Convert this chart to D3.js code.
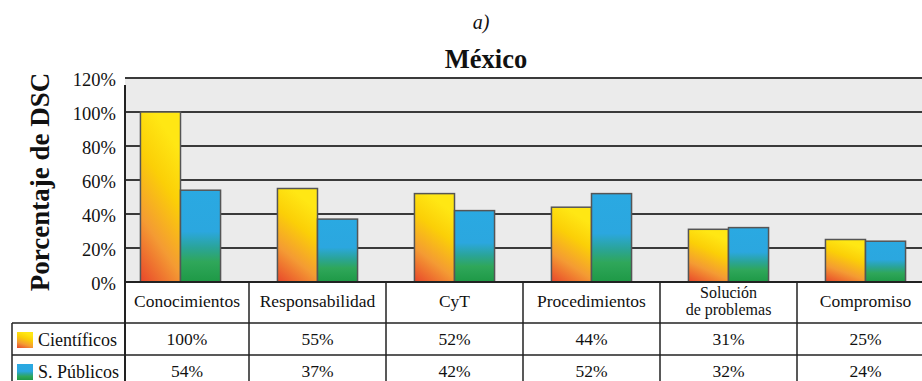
<!DOCTYPE html>
<html>
<head>
<meta charset="utf-8">
<script src="https://cdn.jsdelivr.net/npm/d3@7"></script>
<style>
  body { margin: 0; background: #fff; }
  svg text { font-family: "Liberation Serif", "Times New Roman", Tinos, "DejaVu Serif", serif; fill: #111; }
</style>
</head>
<body>
<div class="bar-chart"></div>
<script>
// data
const categories = ["Conocimientos", "Responsabilidad", "CyT", "Procedimientos", "Solución\nde problemas", "Compromiso"];
const seriesNames = ["Científicos", "S. Públicos"];
const cientificos = [100, 55, 52, 44, 31, 25];
const publicos = [54, 37, 42, 52, 32, 24];
const yTicks = [0, 20, 40, 60, 80, 100, 120];

const W = 922, H = 381;
const plot = { left: 125, right: 922, top: 78, bottom: 282 };
const rowH = [41, 32, 32]; // header, row 1, row 2
const legendLeft = 12;
const serif = '"Liberation Serif", "Times New Roman", Tinos, "DejaVu Serif", serif';

const svg = d3.select('.bar-chart')
    .append('svg')
    .attr("width", W)
    .attr("height", H)
    .attr("font-family", serif);

const defs = svg.append("defs");

function grad(id, x1, y1, stops) {
    const g = defs.append("linearGradient").attr("id", id)
        .attr("x1", x1).attr("y1", y1).attr("x2", 0).attr("y2", 1);
    stops.forEach(s => g.append("stop").attr("offset", s[0]).attr("stop-color", s[1]));
}
grad("gCient", 0.35, 0, [[0, "#ffe714"], [0.3, "#fbcf07"], [0.65, "#f49b33"], [1, "#e8462b"]]);
grad("gPub", 0, 0, [[0, "#2aa9e2"], [0.45, "#2ba7df"], [0.63, "#2aa497"], [0.78, "#2fa75a"], [1, "#1e9946"]]);
const fills = ["url(#gCient)", "url(#gPub)"];

// scales
const x0 = d3.scaleBand()
    .domain(categories)
    .range([112, 934])
    .padding(0);

const x1 = d3.scaleBand()
    .domain(seriesNames)
    .range([0, x0.bandwidth()])
    .paddingInner(0)
    .paddingOuter(0.71);

const y = d3.scaleLinear()
    .domain([0, 120])
    .range([plot.bottom, plot.top]);

// plot background
svg.append("rect")
    .attr("x", plot.left).attr("y", plot.top)
    .attr("width", plot.right - plot.left).attr("height", plot.bottom - plot.top)
    .style("fill", "#ebebeb");

// gridlines
svg.selectAll(".grid")
    .data(yTicks.filter(d => d > 0))
    .enter()
    .append("line")
    .attr("class", "grid")
    .attr("x1", plot.left).attr("x2", plot.right)
    .attr("y1", d => y(d)).attr("y2", d => y(d))
    .style("stroke", "#3a3a3a")
    .style("stroke-width", 2);

// bars
const data = categories.map((c, i) => ({ cat: c, vals: [cientificos[i], publicos[i]] }));

const groups = svg.selectAll(".cat")
    .data(data)
    .enter()
    .append("g")
    .attr("class", "cat")
    .attr("transform", d => "translate(" + x0(d.cat) + ",0)");

groups.selectAll("rect")
    .data(d => d.vals.map((v, j) => ({ s: seriesNames[j], v: v, j: j })))
    .enter()
    .append("rect")
    .attr("x", d => x1(d.s))
    .attr("y", d => y(d.v))
    .attr("width", x1.bandwidth())
    .attr("height", d => plot.bottom - y(d.v))
    .style("fill", d => fills[d.j])
    .style("stroke", "#555")
    .style("stroke-width", 1.5);

// y axis labels
const yaxis = d3.axisLeft(y)
    .tickValues(yTicks)
    .tickFormat(d => d + "%")
    .tickSize(0)
    .tickPadding(9);

const ya = svg.append("g")
    .attr("transform", "translate(" + plot.left + ",0)")
    .call(yaxis)
    .attr("font-family", serif);
ya.select(".domain").remove();
ya.selectAll("text")
    .attr("dy", "0.4em")
    .style("font-size", "18.5px")
    .style("fill", "#111");

// left axis line
svg.append("line")
    .attr("x1", plot.left).attr("x2", plot.left)
    .attr("y1", plot.top + 7).attr("y2", H)
    .style("stroke", "#222").style("stroke-width", 2);

// y title
svg.append("text")
    .attr("transform", "translate(49," + ((plot.top + plot.bottom) / 2 + 2) + ") rotate(-90)")
    .attr("text-anchor", "middle")
    .style("font-size", "27px")
    .style("font-weight", "bold")
    .text("Porcentaje de DSC");

// titles
svg.append("text")
    .attr("x", 481).attr("y", 29)
    .attr("text-anchor", "middle")
    .style("font-size", "20px")
    .style("font-style", "italic")
    .text("a)");

svg.append("text")
    .attr("x", 486).attr("y", 68)
    .attr("text-anchor", "middle")
    .style("font-size", "26.5px")
    .style("font-weight", "bold")
    .text("México");

// data table
const rowY = [plot.bottom, plot.bottom + rowH[0], plot.bottom + rowH[0] + rowH[1], plot.bottom + rowH[0] + rowH[1] + rowH[2]];
const lineStyle = sel => sel.style("stroke", "#222").style("stroke-width", 1.5);

svg.append("line").attr("x1", plot.left).attr("x2", W).attr("y1", rowY[0]).attr("y2", rowY[0])
    .call(lineStyle).style("stroke-width", 2);
[rowY[1], rowY[2]].forEach(yy => {
    svg.append("line").attr("x1", legendLeft).attr("x2", W).attr("y1", yy).attr("y2", yy).call(lineStyle);
});
svg.append("line").attr("x1", legendLeft).attr("x2", legendLeft).attr("y1", rowY[1]).attr("y2", H).call(lineStyle);

categories.forEach((c, i) => {
    const left = Math.max(x0(c), plot.left);
    const right = x0(c) + x0.bandwidth();
    const cx = (left + right) / 2;
    if (i > 0) {
        svg.append("line").attr("x1", x0(c)).attr("x2", x0(c)).attr("y1", rowY[0]).attr("y2", H).call(lineStyle);
    }
    const lines = c.split("\n");
    const hdr = svg.append("text")
        .attr("x", cx)
        .attr("y", lines.length > 1 ? rowY[0] + 16 : rowY[0] + 25)
        .attr("text-anchor", "middle")
        .style("font-size", lines.length > 1 ? "16px" : "17.5px");
    lines.forEach((l, k) => {
        hdr.append("tspan").attr("x", cx).attr("dy", k === 0 ? 0 : 17).text(l);
    });
    [cientificos[i], publicos[i]].forEach((v, j) => {
        svg.append("text")
            .attr("x", cx)
            .attr("y", rowY[j + 1] + 22)
            .attr("text-anchor", "middle")
            .style("font-size", "17.5px")
            .text(v + "%");
    });
});

// legend cells
seriesNames.forEach((s, j) => {
    svg.append("rect")
        .attr("x", 17).attr("y", rowY[j + 1] + 9)
        .attr("width", 16).attr("height", 16)
        .style("fill", fills[j]);
    svg.append("text")
        .attr("x", 38).attr("y", rowY[j + 1] + 23)
        .style("font-size", "18px")
        .text(s);
});
</script>
</body>
</html>
